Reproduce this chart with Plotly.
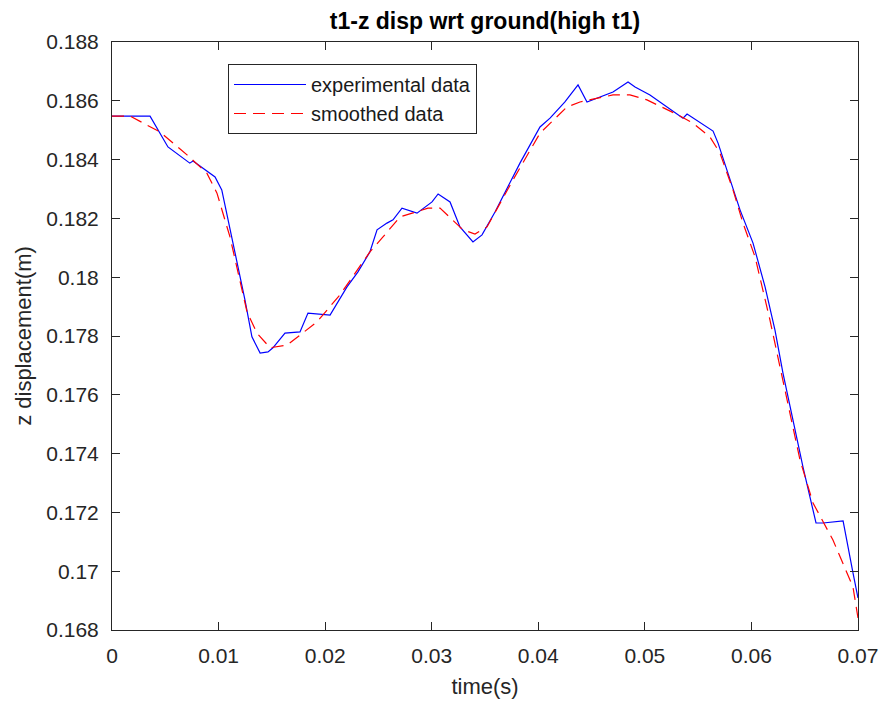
import plotly.graph_objects as go

# experimental data (time s, z displacement m)
t_exp = [0.0, 0.00357, 0.00525, 0.0073, 0.0076, 0.00967, 0.0103, 0.01135, 0.01248, 0.01313,
         0.0139, 0.01464, 0.0151, 0.01623, 0.01764, 0.01839, 0.01933, 0.02046, 0.02205, 0.02308,
         0.0242, 0.02487, 0.0258, 0.02637, 0.02721, 0.02862, 0.03003, 0.0306, 0.03172, 0.03265,
         0.03387, 0.03472, 0.03594, 0.03828, 0.04016, 0.0411, 0.0425, 0.04373, 0.04457, 0.04701,
         0.04842, 0.04908, 0.05048, 0.05311, 0.05358, 0.05396, 0.0564, 0.05687, 0.05799, 0.05893,
         0.06015, 0.06128, 0.06221, 0.06296, 0.06484, 0.06606, 0.06672, 0.0686, 0.06953, 0.07]
z_exp = [0.18548, 0.18548, 0.18443, 0.18388, 0.18395, 0.18341, 0.18297, 0.18116, 0.17922, 0.17797,
         0.17742, 0.17746, 0.1776, 0.1781, 0.17814, 0.17878, 0.17875, 0.17871, 0.17967, 0.18018,
         0.18086, 0.18161, 0.18184, 0.18195, 0.18235, 0.18218, 0.18256, 0.18283, 0.18256, 0.18171,
         0.1812, 0.18144, 0.18222, 0.18388, 0.18511, 0.18541, 0.18596, 0.18654, 0.18596, 0.1863,
         0.18664, 0.18647, 0.1862, 0.18552, 0.18541, 0.18555, 0.18497, 0.18456, 0.18331, 0.18229,
         0.18116, 0.17967, 0.1782, 0.17674, 0.17354, 0.17164, 0.17164, 0.17171, 0.16994, 0.16909]

# smoothed data
t_smooth = [0.0, 0.0017, 0.0045, 0.00704, 0.0089, 0.00985, 0.01107, 0.01267, 0.0136, 0.01483,
            0.01642, 0.01924, 0.02139, 0.0242, 0.02543, 0.02702, 0.02965, 0.03078, 0.03294, 0.03406,
            0.03519, 0.03763, 0.04016, 0.04269, 0.04391, 0.04701, 0.0486, 0.0502, 0.05311, 0.05452,
            0.05611, 0.05705, 0.05827, 0.05921, 0.06034, 0.06174, 0.06268, 0.06456, 0.06578, 0.06765,
            0.06953, 0.07]
z_smooth = [0.18548, 0.18548, 0.18494, 0.18416, 0.18354, 0.18286, 0.18137, 0.17882, 0.1781, 0.1776,
            0.17769, 0.17848, 0.1794, 0.18086, 0.18137, 0.18205, 0.18235, 0.18235, 0.18161, 0.18147,
            0.18171, 0.18331, 0.1849, 0.18579, 0.18596, 0.1862, 0.1862, 0.18603, 0.18552, 0.18524,
            0.18477, 0.18422, 0.18297, 0.18184, 0.18069, 0.17854, 0.17695, 0.17378, 0.17232, 0.17106,
            0.16946, 0.16841]

x_ticks = [0, 0.01, 0.02, 0.03, 0.04, 0.05, 0.06, 0.07]
x_ticktext = ["0", "0.01", "0.02", "0.03", "0.04", "0.05", "0.06", "0.07"]
y_ticks = [0.168, 0.170, 0.172, 0.174, 0.176, 0.178, 0.180, 0.182, 0.184, 0.186, 0.188]
y_ticktext = ["0.168", "0.17", "0.172", "0.174", "0.176", "0.178", "0.18", "0.182", "0.184", "0.186", "0.188"]

FONT = "Liberation Sans, Arial, sans-serif"
AX = "#262626"

fig = go.Figure()
fig.add_trace(go.Scatter(x=t_exp, y=z_exp, mode="lines", name="experimental data",
                         line=dict(color="#0000FF", width=1.2)))
fig.add_trace(go.Scatter(x=t_smooth, y=z_smooth, mode="lines", name="smoothed data",
                         line=dict(color="#FF0000", width=1.2, dash="12px,7px")))

axis_common = dict(showline=True, linecolor=AX, linewidth=1, mirror="ticks",
                   ticks="inside", ticklen=8, tickcolor=AX, showgrid=False, automargin=False,
                   zeroline=False, tickfont=dict(family=FONT, size=21, color=AX))

# page body has an 8px margin: figure is shrunk so the plot lands where the reference has it
fig.update_layout(
    width=879, height=695,
    paper_bgcolor="white", plot_bgcolor="white",
    margin=dict(l=104, r=29, t=34, b=73),
    title=dict(text="<b>t1-z disp wrt ground(high t1)</b>", x=0.5, xref="paper",
               y=1 - 13 / 695, yanchor="middle",
               font=dict(family=FONT, size=23, color="#000000")),
    xaxis=dict(range=[0, 0.07], tickvals=x_ticks, ticktext=x_ticktext, ticklabelstandoff=7,
               title=dict(text="time(s)", font=dict(family=FONT, size=22, color=AX), standoff=12),
               **axis_common),
    yaxis=dict(range=[0.168, 0.188], tickvals=y_ticks, ticktext=y_ticktext, ticklabelstandoff=8,
               title=dict(text="z displacement(m)", font=dict(family=FONT, size=22, color=AX), standoff=8),
               **axis_common),
    legend=dict(x=(228 - 112) / 746, y=(630 - 64) / 588, xanchor="left", yanchor="top",
                bordercolor=AX, borderwidth=1, bgcolor="white",
                font=dict(family=FONT, size=20, color="#1a1a1a"),
                tracegroupgap=0, itemwidth=72),
    showlegend=True,
)

fig.write_html("out.html")
